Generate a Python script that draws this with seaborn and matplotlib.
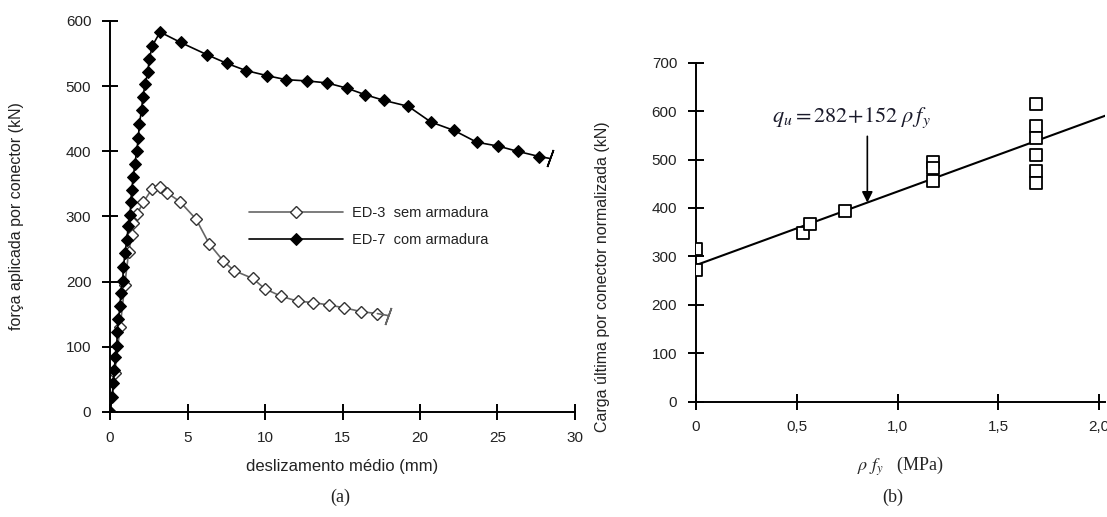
import numpy as np
import pandas as pd
import matplotlib
matplotlib.use("Agg")
import matplotlib.pyplot as plt
import seaborn as sns

# (a) força x deslizamento
ed3_x = [0, 0.3, 0.65, 0.95, 1.2, 1.4, 1.5, 1.75, 2.15, 2.7, 3.2, 3.7, 4.5, 5.55, 6.4, 7.3,
         8.0, 9.2, 10.0, 11.0, 12.1, 13.1, 14.15, 15.1, 16.2, 17.25]
ed3_y = [0, 60, 130, 195, 245, 271, 290, 304, 322, 342, 346, 336, 323, 296, 258, 232,
         217, 205, 189, 178, 170, 168, 164, 160, 154, 151]
ed7_x = [0, 0.15, 0.21, 0.28, 0.34, 0.43, 0.47, 0.54, 0.65, 0.69, 0.82, 0.86, 0.97, 1.08,
         1.18, 1.29, 1.35, 1.4, 1.5, 1.61, 1.72, 1.83, 1.89, 2.04, 2.11, 2.28, 2.43, 2.54,
         2.73, 3.23, 4.56, 6.28, 7.53, 8.77, 10.15, 11.35, 12.73, 14.0, 15.27, 16.45, 17.7,
         19.25, 20.7, 22.2, 23.66, 25.05, 26.3, 27.7]
ed7_y = [0, 23, 44, 65, 85, 101, 122, 142, 163, 182, 201, 222, 244, 264, 285, 302, 323,
         341, 361, 381, 401, 420, 442, 464, 483, 504, 521, 542, 562, 583, 567, 548, 535,
         524, 516, 510, 508, 505, 497, 487, 478, 469, 445, 432, 414, 408, 400, 392]

# (b) carga última x rho*fy
rhofy = [0, 0, 0.53, 0.565, 0.74, 1.175, 1.175, 1.175, 1.685, 1.685, 1.685, 1.685, 1.685, 1.685]
qu = [316, 273, 349, 366, 394, 494, 482, 456, 614, 570, 545, 509, 477, 452]
fit_a, fit_b = 282, 152
fit_x = [0, 2.03]

sns.set_theme(style="ticks")
plt.rcParams['font.family'] = ['Liberation Sans', 'DejaVu Sans']
plt.rcParams['mathtext.fontset'] = 'stix'
ink = '#222222'

fig = plt.figure(figsize=(11.07, 5.17), dpi=100)
ax1 = fig.add_axes([0.0994, 0.2031, 0.42, 0.7563])
ax2 = fig.add_axes([0.6287, 0.223, 0.3697, 0.6557])

# ---- (a)
sns.lineplot(x=ed3_x, y=ed3_y, ax=ax1, color='#666666', lw=1.2, marker='D', markersize=6,
             markerfacecolor='white', markeredgecolor='#333333', markeredgewidth=1.0,
             label='ED-3  sem armadura', sort=False)
sns.lineplot(x=ed7_x, y=ed7_y, ax=ax1, color='black', lw=1.2, marker='D', markersize=6.5,
             markerfacecolor='black', markeredgecolor='black',
             label='ED-7  com armadura', sort=False)
# marcas de interrupção no fim das curvas
for xs, ys, c in [(ed3_x, ed3_y, '#666666'), (ed7_x, ed7_y, 'black')]:
    xe = xs[-1] + 0.7
    ax1.plot([xs[-1], xe], [ys[-1], ys[-1] - 3], color=c, lw=1.2)
    ax1.plot([xe], [ys[-1] - 3], marker=(2, 2, -20), markersize=13, color=c, mew=1.2)

ax1.set_xlim(0, 30)
ax1.set_ylim(0, 600)
ax1.set_xticks(range(0, 31, 5))
ax1.set_yticks(range(0, 601, 100))
ax1.set_xlabel('deslizamento médio (mm)', fontsize=12, color=ink, labelpad=10)
ax1.set_ylabel('força aplicada por conector (kN)', fontsize=11.5, color=ink, labelpad=30)
leg = ax1.legend(loc='upper left', bbox_to_anchor=(0.27, 0.56), frameon=False, fontsize=10.5,
                 handlelength=6.5, handletextpad=0.6, labelspacing=0.9, numpoints=1)
for t in leg.get_texts():
    t.set_color(ink)

# ---- (b)
sns.scatterplot(x=rhofy, y=qu, ax=ax2, marker='s', s=80, facecolor='white',
                edgecolor='black', linewidth=1.3, zorder=3)
fit_y = [fit_a + fit_b * v for v in fit_x]
sns.lineplot(x=fit_x, y=fit_y, ax=ax2, color='black', lw=1.5)
arrow_x = 0.85
ax2.annotate('', xy=(arrow_x, fit_a + fit_b * arrow_x), xytext=(arrow_x, 548),
             arrowprops=dict(arrowstyle='-|>', color='black', lw=1.2, mutation_scale=16,
                             shrinkA=0, shrinkB=0))
ax2.text(0.77, 586, r'$q_u = 282\!+\!152\ \rho\, f_y$', fontsize=16, ha='center', va='center',
         color='#1a1a2a')
ax2.set_xlim(0, 2.03)
ax2.set_ylim(0, 700)
ax2.set_xticks([0, 0.5, 1.0, 1.5, 2.0])
ax2.set_xticklabels(['0', '0,5', '1,0', '1,5', '2,0'])
ax2.set_yticks(range(0, 701, 100))
ax2.set_xlabel(r'$\rho\ f_y$   (MPa)', fontsize=13, family='Liberation Serif', labelpad=14)
fig.text(603 / 1107, 1 - 277 / 517, 'Carga última por conector normalizada (kN)', rotation=90,
         ha='center', va='center', fontsize=11.5, color=ink)

for ax in (ax1, ax2):
    sns.despine(ax=ax)
    for sp in ('left', 'bottom'):
        ax.spines[sp].set_linewidth(1.4)
        ax.spines[sp].set_color('black')
    ax.tick_params(direction='inout', length=11, width=1.4, color='black',
                   labelsize=11, labelcolor=ink, pad=8)
    ax.grid(False)

fig.text(340 / 1107, 1 - 497 / 517, '(a)', ha='center', va='center', fontsize=13,
         family='Liberation Serif', color=ink)
fig.text(893 / 1107, 1 - 497 / 517, '(b)', ha='center', va='center', fontsize=13,
         family='Liberation Serif', color=ink)

fig.savefig('out.png', dpi=100, facecolor='white')
